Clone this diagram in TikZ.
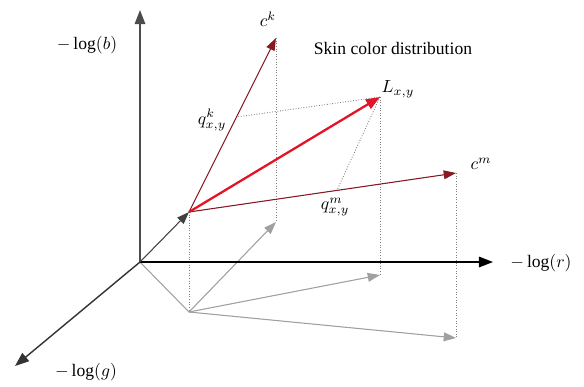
\documentclass[tikz,border=0pt]{standalone}
\usepackage{fontspec}
\setmainfont{Liberation Serif}
\usepackage{amsmath}
\usetikzlibrary{arrows.meta, calc}
\definecolor{vecred}{RGB}{135,25,35}
\definecolor{hotred}{RGB}{225,20,40}
\definecolor{ground}{RGB}{160,160,160}

\begin{document}
\begin{tikzpicture}[
    x=0.02cm, y=-0.02cm,
    every node/.style={font=\normalsize},
    ax/.style={-{Triangle[length=8pt,width=6pt]}, line width=0.8pt},
    cv/.style={-{Triangle[length=7pt,width=5pt]}, line width=0.6pt, draw=vecred, fill=vecred},
    lv/.style={-{Triangle[length=8pt,width=6pt]}, line width=1.3pt, draw=hotred, fill=hotred},
    gv/.style={-{Triangle[length=7pt,width=5pt]}, line width=0.6pt, draw=ground, fill=ground},
    dl/.style={densely dotted, line width=0.5pt, draw=gray},
    lb/.style={inner sep=1pt}
]
\useasboundingbox (0,0) rectangle (584,386);
% points
\coordinate (O) at (140,262);
\coordinate (btip) at (140,10);
\coordinate (rtip) at (493,262);
\coordinate (gtip) at (15,366);
\coordinate (P) at (189,212);
\coordinate (Q) at (189,312);
\coordinate (ck) at (276,38);
\coordinate (L) at (380,97);
\coordinate (cm) at (456,173);
\coordinate (ckg) at (276,222);
\coordinate (Lg) at (380,275);
\coordinate (cmg) at (456,338);
\coordinate (qk) at ($(P)!0.546!(ck)$);
\coordinate (qm) at ($(P)!0.554!(cm)$);
% projections
\draw[dl] (ck) -- (ckg);
\draw[dl] (L) -- (Lg);
\draw[dl] (cm) -- (cmg);
\draw[dl] (P) -- (Q);
\draw[dl] (L) -- (qk);
\draw[dl] (L) -- (qm);
% ground plane
\draw[line width=0.6pt, ground] (O) -- (Q);
\draw[gv] (Q) -- (ckg);
\draw[gv] (Q) -- (Lg);
\draw[gv] (Q) -- (cmg);
% axes
\draw[ax, draw=black!70, fill=black] (O) -- (btip);
\draw[ax] (O) -- (rtip);
\draw[ax, draw=black!80] (O) -- (gtip);
\draw[-{Triangle[length=7pt,width=5pt]}, line width=0.6pt, black!75] (O) -- (P);
% vectors
\draw[cv] (P) -- (ck);
\draw[cv] (P) -- (cm);
\draw[lv] (P) -- (L);
% labels
\node[lb] (blab) at (87,45) {$-\log(b)$};
\node[lb] (rlab) at (541,263) {$-\log(r)$};
\node[lb] (glab) at (86,372) {$-\log(g)$};
\node[lb] (cklab) at (268,19) {$c^k$};
\node[lb] (Llab) at (398,89) {$L_{x,y}$};
\node[lb] (cmlab) at (481,164) {$c^m$};
\node[lb] (qklab) at (212,120) {$q^k_{x,y}$};
\node[lb] (qmlab) at (335,207) {$q^m_{x,y}$};
\node[lb] (skin) at (393,48) {Skin color distribution};
\end{tikzpicture}
\end{document}
